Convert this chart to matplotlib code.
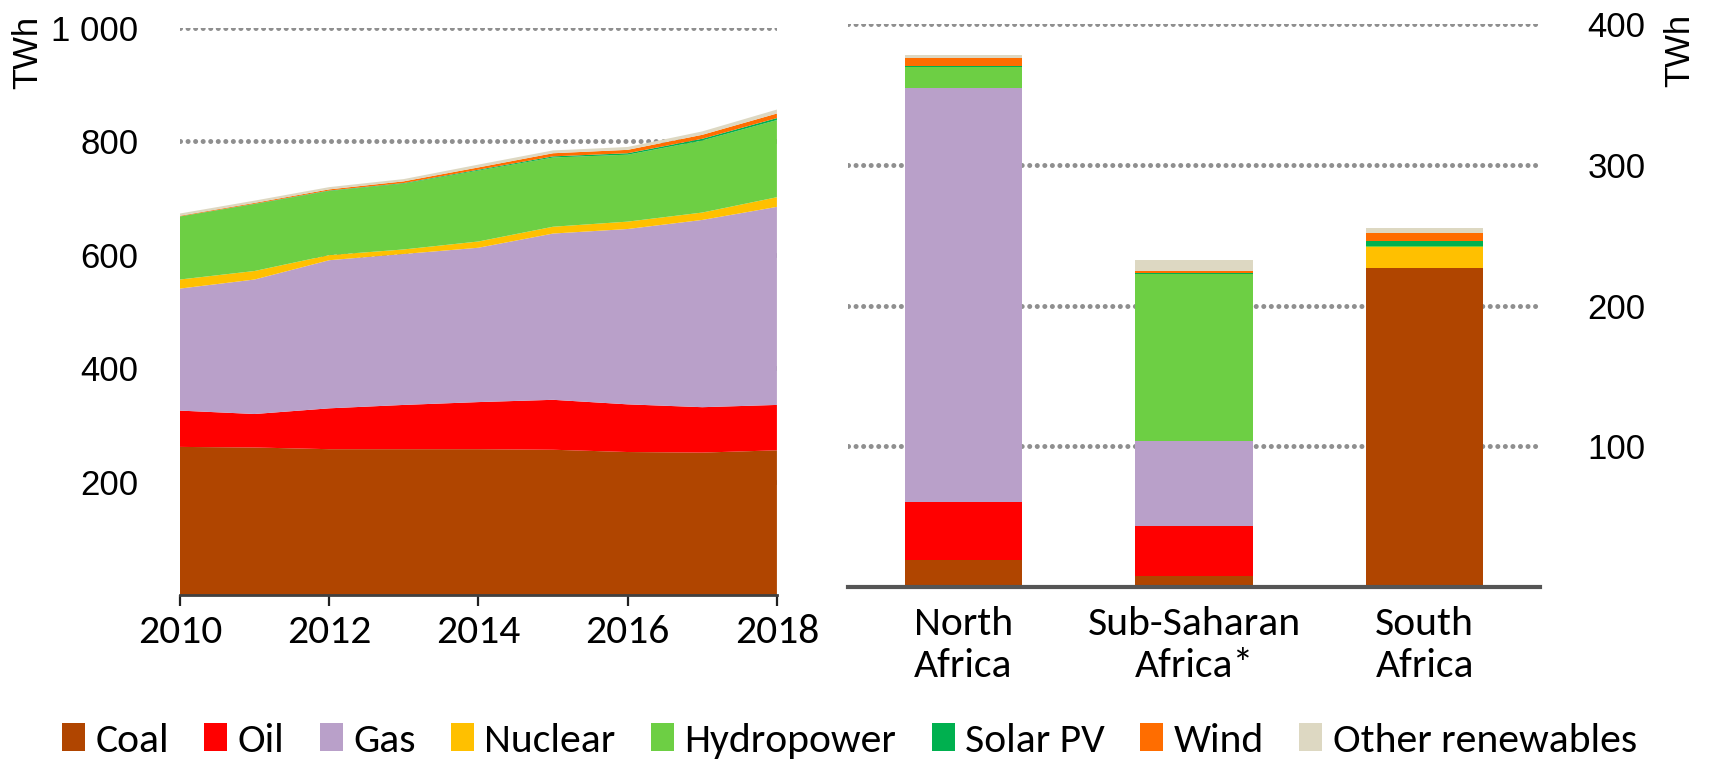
import matplotlib
matplotlib.use("Agg")
import matplotlib.pyplot as plt
from matplotlib.patches import Patch
from matplotlib import font_manager
import numpy as np

# --- data -------------------------------------------------------------
years = [2010, 2011, 2012, 2013, 2014, 2015, 2016, 2017, 2018]
coal = [261, 260, 257, 257, 257, 256, 252, 251, 255]
oil = [64, 59, 72, 78, 83, 88, 84, 80, 80]
gas = [215, 237, 261, 266, 272, 293, 309, 330, 349]
nuclear = [16, 15, 9, 8, 11, 12, 13, 13, 17]
hydro = [111, 118, 113, 116, 125, 122, 118, 127, 136]
solar = [0.3, 0.5, 0.8, 1.0, 1.5, 2.0, 2.5, 3.0, 3.5]
wind = [1.0, 1.5, 2.0, 3.0, 4.0, 5.5, 6.0, 7.0, 8.0]
other = [4, 4, 4, 4, 5, 5, 5, 6, 7]

regions = ["North\nAfrica", "Sub-Saharan\nAfrica*", "South\nAfrica"]
reg_coal = [19, 8, 226.5]
reg_oil = [41.5, 35.5, 0.5]
reg_gas = [294, 60, 0]
reg_nuclear = [0, 0, 14.5]
reg_hydro = [15, 119, 1]
reg_solar = [0.5, 0.5, 3.5]
reg_wind = [6, 1.8, 5.7]
reg_other = [2.2, 7.6, 3.5]

sources = ["Coal", "Oil", "Gas", "Nuclear", "Hydropower", "Solar PV", "Wind", "Other renewables"]
colors = ["#B04500", "#FF0000", "#B9A0C9", "#FFC000", "#6DCF44", "#00B04F", "#FF6D00", "#DDD8C2"]

left_ticks = [200, 400, 600, 800, 1000]
left_ticklabels = ["200", "400", "600", "800", "1 000"]
right_ticks = [100, 200, 300, 400]
year_ticks = [2010, 2012, 2014, 2016, 2018]


def pick_font(names):
    installed = {f.name for f in font_manager.fontManager.ttflist}
    for n in names:
        if n in installed:
            return n
    return "DejaVu Sans"


narrow = pick_font(["Carlito", "Lato", "Open Sans"])
arial = pick_font(["Liberation Sans", "Arimo", "DejaVu Sans"])

# dotted grey gridlines made of round dots
grid_kw = dict(color="#8f8f8f", linewidth=3.6, linestyle=(0, (0.01, 1.5)),
               dash_capstyle="round")

fig = plt.figure(figsize=(17.09, 7.61), dpi=100)

# --- left: stacked area --------------------------------------------------
ax1 = fig.add_axes([0.1053, 0.2181, 0.3493, 0.7457])
ax1.stackplot(years, coal, oil, gas, nuclear, hydro, solar, wind, other,
              colors=colors, linewidth=0, zorder=2)
ax1.set_xlim(2010, 2018)
ax1.set_ylim(0, 1000)
ax1.set_yticks(left_ticks)
ax1.set_yticklabels(left_ticklabels)
ax1.yaxis.grid(True, **grid_kw)
ax1.set_axisbelow(True)
ax1.set_xticks(year_ticks)
for s in ["top", "right", "left"]:
    ax1.spines[s].set_visible(False)
ax1.spines["bottom"].set_color("#404040")
ax1.spines["bottom"].set_linewidth(2)
ax1.spines["bottom"].set_zorder(5)
ax1.tick_params(axis="y", length=0, pad=30)
ax1.tick_params(axis="x", length=8, width=1.6, color="#202020", pad=6)
for lab in ax1.get_yticklabels():
    lab.set_fontfamily(arial)
    lab.set_fontsize(25)
for lab in ax1.get_xticklabels():
    lab.set_fontfamily(narrow)
    lab.set_fontsize(30)

# --- right: stacked bars ------------------------------------------------
ax2 = fig.add_axes([0.4962, 0.2286, 0.4049, 0.7398])
x = np.arange(len(regions))
bottom = np.zeros(len(regions))
for vals, c in zip([reg_coal, reg_oil, reg_gas, reg_nuclear, reg_hydro,
                    reg_solar, reg_wind, reg_other], colors):
    ax2.bar(x, vals, width=0.51, bottom=bottom, color=c, linewidth=0, zorder=2)
    bottom += np.array(vals)
ax2.set_xlim(-0.5, 2.5)
ax2.set_ylim(0, 400)
ax2.set_yticks(right_ticks)
ax2.yaxis.tick_right()
ax2.yaxis.grid(True, **grid_kw)
ax2.set_axisbelow(True)
ax2.set_xticks(x)
ax2.set_xticklabels(regions)
for s in ["top", "right", "left"]:
    ax2.spines[s].set_visible(False)
ax2.spines["bottom"].set_color("#555555")
ax2.spines["bottom"].set_linewidth(3)
ax2.spines["bottom"].set_zorder(5)
ax2.tick_params(axis="y", length=0, pad=34)
ax2.tick_params(axis="x", length=0, pad=14)
for lab in ax2.get_yticklabels():
    lab.set_fontfamily(arial)
    lab.set_fontsize(25)
for lab in ax2.get_xticklabels():
    lab.set_fontfamily(narrow)
    lab.set_fontsize(30)

# unit labels
fig.text(28 / 1709, 1 - 52 / 761, "TWh", rotation=90, ha="center", va="center",
         fontsize=25, fontfamily=arial)
fig.text(1680 / 1709, 1 - 50 / 761, "TWh", rotation=90, ha="center", va="center",
         fontsize=25, fontfamily=arial)

# --- legend ---------------------------------------------------------------
handles = [Patch(facecolor=c, edgecolor="none", label=s) for s, c in zip(sources, colors)]
fig.legend(handles=handles, loc="center", bbox_to_anchor=(0.497, 1 - 741 / 761),
           ncol=8, frameon=False, prop={"family": narrow, "size": 30},
           handlelength=0.55, handleheight=0.65, handletextpad=0.25,
           columnspacing=0.85, borderaxespad=0)

fig.savefig("out.png", dpi=100)
